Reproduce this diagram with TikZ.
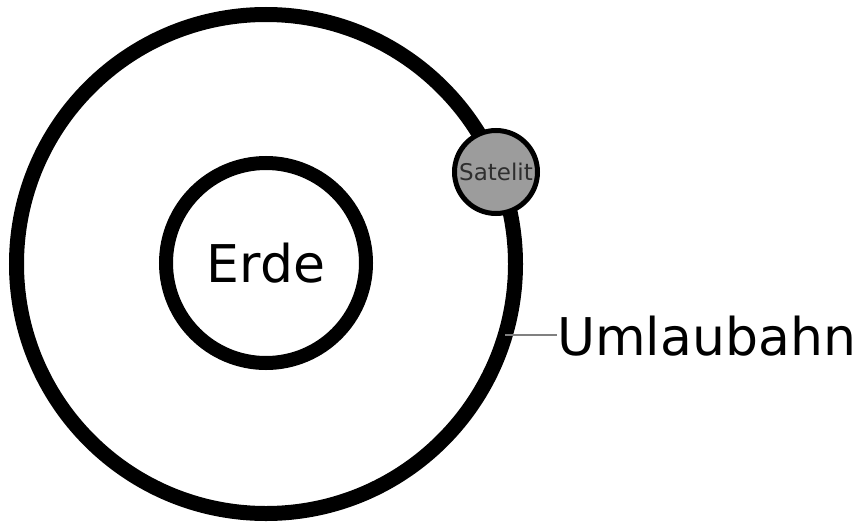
\documentclass[tikz,border=0pt]{standalone}
\usepackage{fontspec}
\setmainfont{DejaVu Sans}
\usetikzlibrary{positioning}
\definecolor{satgray}{HTML}{9C9C9C}
\definecolor{sattext}{HTML}{2E2E2E}

\begin{document}
\begin{tikzpicture}[x=1pt,y=-1pt,
    ring/.style={draw,circle,inner sep=0pt,line width=#1},
    satbox/.style={ring=5pt,fill=satgray,minimum size=83pt,font=\fontsize{23}{23}\selectfont,text=sattext}]
\useasboundingbox (0,0) rectangle (862,522);
\node[ring=15pt,minimum size=499pt] (orbit) at (266,264) {};
\node[ring=14pt,minimum size=200pt,font=\fontsize{52}{52}\selectfont] (erde) at (266,263) {Erde};
\node[satbox] (satelit) at (496,172) {Satelit};
\node[anchor=base west,inner sep=0pt,font=\fontsize{52}{52}\selectfont] (bahn) at (557,355) {Umlaubahn};
\path (orbit.center) ++(16.5:249.5) coordinate (tap);
\draw[gray,line width=1.5pt] (tap) -- (tap -| bahn.west);
\end{tikzpicture}
\end{document}
